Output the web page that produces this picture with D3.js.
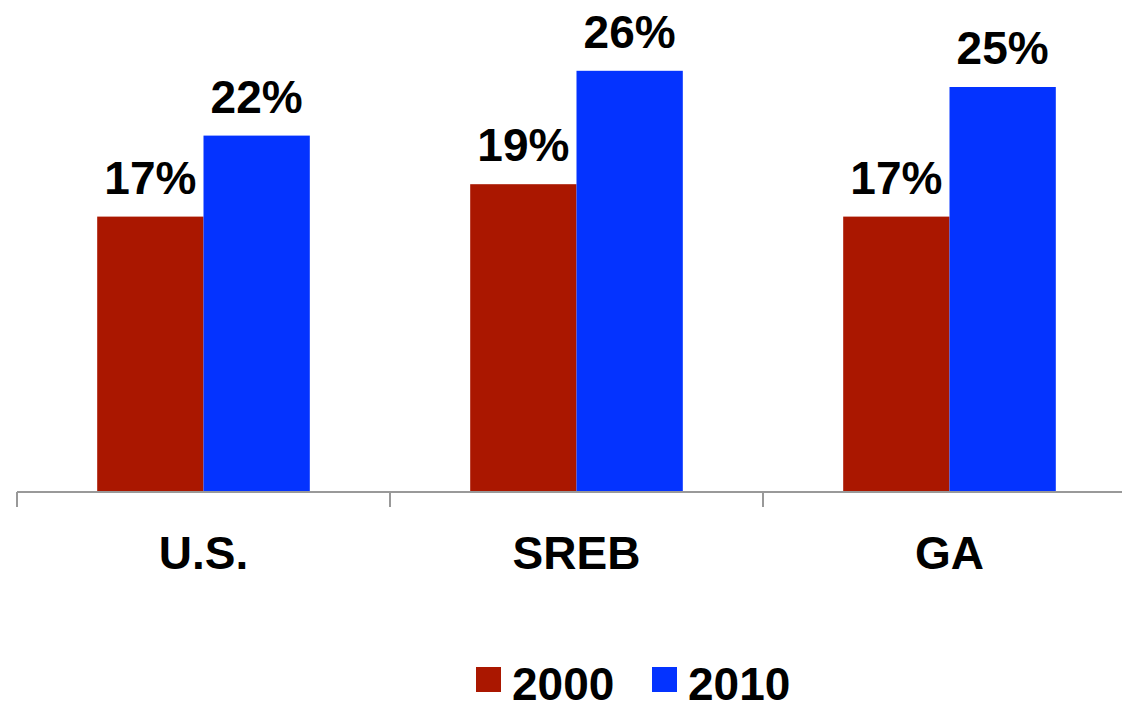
<!DOCTYPE html>
<html><head><meta charset="utf-8">
<script src="https://cdn.jsdelivr.net/npm/d3@7"></script>
<style>body{margin:0;background:#fff}svg{display:block}text{font-family:"Liberation Sans",Arial,sans-serif;font-weight:bold}</style>
</head><body><svg id="c" width="1122" height="703"></svg>
<script>
const categories = ["U.S.", "SREB", "GA"];
const seriesNames = ["2000", "2010"];
const values2000 = [17, 19, 17];
const values2010 = [22, 26, 25];
const colors = ["#AA1700", "#0433FF"];

const svg = d3.select("#c");
const base = 492;
const x = d3.scaleBand().domain(categories).range([17, 1136]).paddingInner(0).paddingOuter(0);
const inner = d3.scaleBand().domain(seriesNames).range([x.bandwidth()*0.215, x.bandwidth()*0.785]);
const y = d3.scaleLinear().domain([0, 30]).range([base, 6]);

const data = categories.map((c, i) => ({c, vals: [values2000[i], values2010[i]]}));

const g = svg.append("g");
data.forEach(d => {
  d.vals.forEach((v, j) => {
    const bx = x(d.c) + inner(seriesNames[j]);
    g.append("rect").attr("x", bx).attr("y", y(v)).attr("width", inner.bandwidth()).attr("height", base - y(v)).attr("fill", colors[j]);
    g.append("text").attr("x", bx + inner.bandwidth()/2).attr("y", y(v) - 23)
      .attr("text-anchor", "middle").attr("font-size", 46).attr("fill", "#000").text(v + "%");
  });
});

// axis
const ax = svg.append("g").attr("transform", `translate(0,${base})`)
  .call(d3.axisBottom(x).tickSize(0).tickFormat(""));
ax.select(".domain").attr("stroke", "#999").attr("stroke-width", 2).attr("d", "M17,0H1136");
const edges = [0, 1, 2, 3].map(i => 17 + i * x.step());
svg.selectAll(".tk").data(edges).enter().append("line")
  .attr("x1", d => d).attr("x2", d => d).attr("y1", base).attr("y2", base + 15)
  .attr("stroke", "#999").attr("stroke-width", 2);
svg.selectAll(".cl").data(categories).enter().append("text")
  .attr("x", d => x(d) + x.bandwidth()/2).attr("y", 569).attr("text-anchor", "middle")
  .attr("font-size", 46).attr("fill", "#000").text(d => d);

// legend
const leg = [{n: seriesNames[0], c: colors[0], x: 476}, {n: seriesNames[1], c: colors[1], x: 652}];
leg.forEach(l => {
  svg.append("rect").attr("x", l.x).attr("y", 667).attr("width", 25).attr("height", 25).attr("fill", l.c);
  svg.append("text").attr("x", l.x + 36).attr("y", 700).attr("font-size", 46).attr("fill", "#000").text(l.n);
});
</script></body></html>
